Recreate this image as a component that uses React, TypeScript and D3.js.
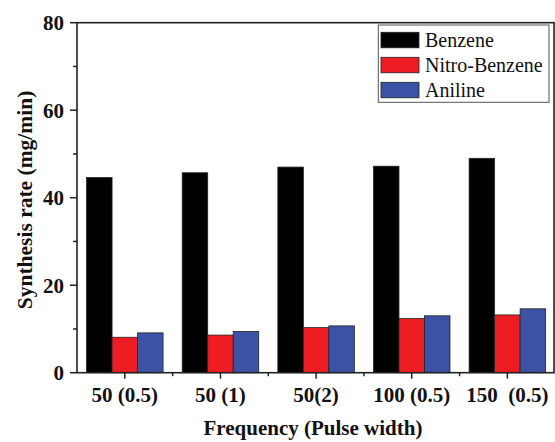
import React from "react";
import * as d3 from "d3";

const categories = ["50 (0.5)", "50 (1)", "50(2)", "100 (0.5)", "150  (0.5)"];
const seriesNames = ["Benzene", "Nitro-Benzene", "Aniline"];
const benzene = [44.6, 45.7, 47.0, 47.2, 49.0];
const nitroBenzene = [8.1, 8.6, 10.3, 12.4, 13.2];
const aniline = [9.1, 9.4, 10.7, 13.0, 14.6];
const colors = ["#000000", "#ee1d24", "#3a53a4"];
const yMajorTicks = [0, 20, 40, 60, 80];
const yMinorTicks = [10, 30, 50, 70];

const W = 555;
const H = 442;
const left = 77;
const right = 554;
const top = 22.7;
const bottom = 372.7;
const font = "'Liberation Serif', 'Times New Roman', serif";

export default function App() {
  const values = [benzene, nitroBenzene, aniline];
  const x0 = d3.scaleBand<string>().domain(categories).range([left, 555.2]).padding(0);
  const groupW = x0.bandwidth() * 0.8;
  const x1 = d3.scaleBand<string>().domain(seriesNames).range([0, groupW]).padding(0);
  const y = d3.scaleLinear().domain([0, 80]).range([bottom, top]);
  const boundaries = categories.slice(1).map((c) => x0(c)!);

  return (
    <svg width={W} height={H} style={{ position: "absolute", left: 0, top: 0, background: "#fff" }}>
      <rect x={0} y={0} width={W} height={H} fill="#fff" />
      {/* bars */}
      {categories.map((c, i) => (
        <g key={c} transform={`translate(${x0(c)! + x0.bandwidth() * 0.1},0)`}>
          {seriesNames.map((s, j) => (
            <rect
              key={s}
              x={x1(s)!}
              y={y(values[j][i])}
              width={x1.bandwidth()}
              height={y(0) - y(values[j][i])}
              fill={colors[j]}
              stroke="#222"
              strokeWidth={0.8}
            />
          ))}
        </g>
      ))}
      {/* frame */}
      <rect x={left} y={top} width={right - left} height={bottom - top} fill="none" stroke="#222" strokeWidth={1.6} />
      {/* y ticks */}
      {yMajorTicks.map((t) => (
        <g key={t}>
          <line x1={left - 7} x2={left} y1={y(t)} y2={y(t)} stroke="#222" strokeWidth={1.5} />
          <text
            x={64}
            y={y(t)}
            dy="0.35em"
            textAnchor="end"
            fontFamily={font}
            fontWeight="bold"
            fontSize={21}
            fill="#111"
          >
            {t}
          </text>
        </g>
      ))}
      {yMinorTicks.map((t) => (
        <line key={t} x1={left - 4} x2={left} y1={y(t)} y2={y(t)} stroke="#222" strokeWidth={1.5} />
      ))}
      {/* x ticks */}
      {categories.map((c) => {
        const cx = x0(c)! + x0.bandwidth() / 2;
        return (
          <g key={c}>
            <line x1={cx} x2={cx} y1={bottom} y2={bottom + 6} stroke="#222" strokeWidth={1.5} />
            <text
              x={cx}
              y={402}
              textAnchor="middle"
              fontFamily={font}
              fontWeight="bold"
              fontSize={21}
              fill="#111"
              style={{ whiteSpace: "pre" }}
            >
              {c}
            </text>
          </g>
        );
      })}
      {boundaries.map((bx, i) => (
        <line key={i} x1={bx} x2={bx} y1={bottom} y2={bottom + 3.5} stroke="#222" strokeWidth={1.5} />
      ))}
      {/* axis titles */}
      <text
        x={313}
        y={435}
        textAnchor="middle"
        fontFamily={font}
        fontWeight="bold"
        fontSize={21}
        fill="#111"
      >
        Frequency (Pulse width)
      </text>
      <text
        transform={`translate(32,200) rotate(-90)`}
        textAnchor="middle"
        fontFamily={font}
        fontWeight="bold"
        fontSize={21.5}
        fill="#111"
      >
        Synthesis rate (mg/min)
      </text>
      {/* legend */}
      <g>
        <rect x={378.3} y={25} width={170.7} height={77.3} fill="#fff" stroke="#555" strokeWidth={1} />
        {seriesNames.map((s, j) => {
          const yy = 32.3 + j * 25;
          return (
            <g key={s}>
              <rect x={381} y={yy} width={38} height={15.5} fill={colors[j]} stroke="#222" strokeWidth={0.8} />
              <text x={425} y={yy + 8} dy="0.35em" fontFamily={font} fontSize={20} fill="#111">
                {s}
              </text>
            </g>
          );
        })}
      </g>
    </svg>
  );
}
